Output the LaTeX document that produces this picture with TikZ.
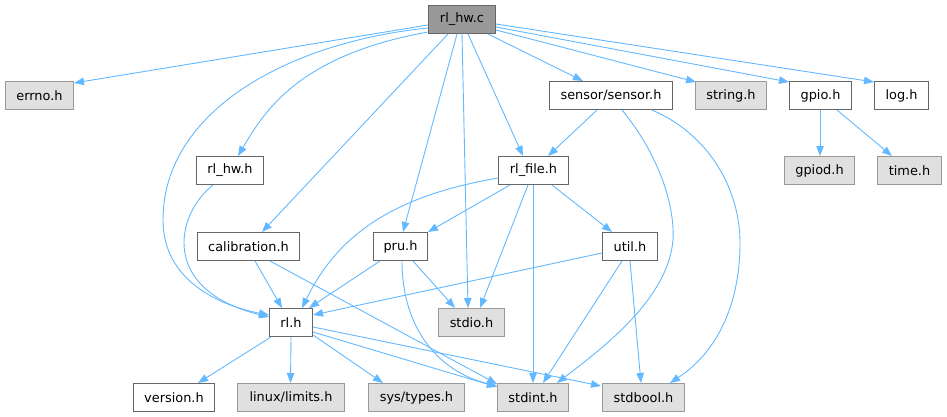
\documentclass[tikz,border=0pt]{standalone}
\usepackage{fontspec}
\setmainfont{DejaVu Sans}
\usetikzlibrary{arrows.meta,calc}
\definecolor{edgec}{HTML}{63B8FF}
\definecolor{sysfill}{HTML}{E0E0E0}
\definecolor{sysdraw}{HTML}{999999}
\definecolor{usrdraw}{HTML}{666666}
\definecolor{mainfill}{HTML}{999999}
\tikzset{
  box/.style={draw=usrdraw, fill=white, line width=1pt, minimum height=28pt, inner sep=0pt, anchor=north west, font=\fontsize{12.9}{14}\selectfont},
  sysbox/.style={box, draw=sysdraw, fill=sysfill},
  mainbox/.style={box, fill=mainfill},
  e/.style={draw=edgec, line width=0.9pt, -{Triangle[length=10pt,width=7.5pt]}}
}
\begin{document}
\begin{tikzpicture}[x=1pt,y=-1pt]
\useasboundingbox (0,0) rectangle (947,417);
% nodes
\node[mainbox, minimum width=67pt] (main) at (428,5) {rl\_hw.c};
\node[sysbox, minimum width=68pt] (errno) at (5,81) {errno.h};
\node[box, minimum width=67pt] (rlhwh) at (196,156) {rl\_hw.h};
\node[box, minimum width=123pt] (sensor) at (549,81) {sensor/sensor.h};
\node[sysbox, minimum width=71pt] (string) at (695,81) {string.h};
\node[box, minimum width=62pt] (gpio) at (789,81) {gpio.h};
\node[box, minimum width=54pt] (log) at (874,81) {log.h};
\node[box, minimum width=70pt] (rlfile) at (498,156) {rl\_file.h};
\node[sysbox, minimum width=70pt] (gpiod) at (784,156) {gpiod.h};
\node[sysbox, minimum width=64pt] (time) at (877,156) {time.h};
\node[box, minimum width=102pt] (calib) at (197,232) {calibration.h};
\node[box, minimum width=54pt] (pru) at (373,232) {pru.h};
\node[box, minimum width=55pt] (util) at (602,232) {util.h};
\node[box, minimum width=43pt] (rl) at (269,308) {rl.h};
\node[sysbox, minimum width=66pt] (stdio) at (438,308) {stdio.h};
\node[box, minimum width=81pt] (version) at (133,383) {version.h};
\node[sysbox, minimum width=107pt] (limits) at (237,383) {linux/limits.h};
\node[sysbox, minimum width=96pt] (systypes) at (368,383) {sys/types.h};
\node[sysbox, minimum width=71pt] (stdint) at (497,383) {stdint.h};
\node[sysbox, minimum width=82pt] (stdbool) at (602,383) {stdbool.h};
% edges from rl_hw.c
\draw[e] ($(main.north west)+(0,20)$) -- ($(errno.north east)+(0,2)$);
\draw[e] ($(main.north west)+(0,23)$) .. controls (290,42) and (163,110) .. (163,220) .. controls (163,282) and (222,306) .. ($(rl.north west)+(0,7)$);
\draw[e] ($(main.north west)+(0,27)$) .. controls (300,55) and (265,110) .. ($(rlhwh.north west)+(42,0)$);
\draw[e] ($(main.south west)+(20,0)$) -- ($(calib.north west)+(65,0)$);
\draw[e] ($(main.south west)+(29,0)$) -- ($(pru.north west)+(30,0)$);
\draw[e] ($(main.south west)+(34,0)$) -- ($(stdio.north west)+(30,0)$);
\draw[e] ($(main.south west)+(40,0)$) -- ($(rlfile.north west)+(25,0)$);
\draw[e] ($(main.south west)+(60,0)$) -- ($(sensor.north west)+(34,0)$);
\draw[e] ($(main.north east)+(0,25)$) -- ($(string.north west)+(1,1)$);
\draw[e] ($(main.north east)+(0,22)$) -- ($(gpio.north west)+(0,1)$);
\draw[e] ($(main.north east)+(0,19)$) -- ($(log.north west)+(0,1)$);
% rl_hw.h
\draw[e] ($(rlhwh.south west)+(17,0)$) .. controls (175,215) and (160,290) .. ($(rl.north west)+(0,9)$);
% sensor
\draw[e] ($(sensor.south west)+(48,0)$) -- ($(rlfile.north west)+(50,0)$);
\draw[e] ($(sensor.south west)+(73,0)$) .. controls (655,150) and (675,200) .. (673,240) .. controls (668,300) and (600,350) .. ($(stdint.north west)+(60,0)$);
\draw[e] ($(sensor.south west)+(103,0)$) .. controls (710,135) and (740,190) .. (740,243) .. controls (740,300) and (720,350) .. ($(stdbool.north west)+(68,0)$);
% gpio
\draw[e] ($(gpio.south west)+(31,0)$) -- ($(gpiod.north west)+(36,0)$);
\draw[e] ($(gpio.south west)+(48,0)$) -- ($(time.north west)+(15,0)$);
% rl_file
\draw[e] ($(rlfile.north west)+(0,22)$) .. controls (400,195) and (340,230) .. ($(rl.north west)+(33,0)$);
\draw[e] ($(rlfile.south west)+(12,0)$) -- (pru.north east);
\draw[e] ($(rlfile.south west)+(30,0)$) -- ($(stdio.north west)+(42,0)$);
\draw[e] ($(rlfile.south west)+(35,0)$) -- ($(stdint.north west)+(36,0)$);
\draw[e] ($(rlfile.south west)+(54,0)$) -- ($(util.north west)+(10,0)$);
% calibration
\draw[e] ($(calib.south west)+(58,0)$) -- ($(rl.north west)+(13,0)$);
\draw[e] ($(calib.south west)+(73,0)$) -- ($(stdint.north west)+(0,1)$);
% pru
\draw[e] ($(pru.south west)+(7,0)$) -- ($(rl.north west)+(40,0)$);
\draw[e] ($(pru.south west)+(40,0)$) -- ($(stdio.north west)+(17,0)$);
\draw[e] ($(pru.south west)+(29,0)$) .. controls (402,330) and (440,372) .. ($(stdint.north west)+(0,3)$);
% util
\draw[e] ($(util.north west)+(0,21)$) -- ($(rl.north east)+(0,7)$);
\draw[e] ($(util.south west)+(20,0)$) -- ($(stdint.north west)+(46,0)$);
\draw[e] ($(util.south west)+(28,0)$) -- ($(stdbool.north west)+(39,0)$);
% rl
\draw[e] ($(rl.south west)+(2,0)$) -- ($(version.north west)+(65,0)$);
\draw[e] (rl.south) -- ($(limits.north west)+(53.5,0)$);
\draw[e] ($(rl.south east)+(0,-2)$) -- ($(systypes.north west)+(15,0)$);
\draw[e] ($(rl.north east)+(0,24)$) -- ($(stdint.north west)+(0,4)$);
\draw[e] ($(rl.north east)+(0,19)$) -- ($(stdbool.north west)+(-1,3)$);
\end{tikzpicture}
\end{document}
